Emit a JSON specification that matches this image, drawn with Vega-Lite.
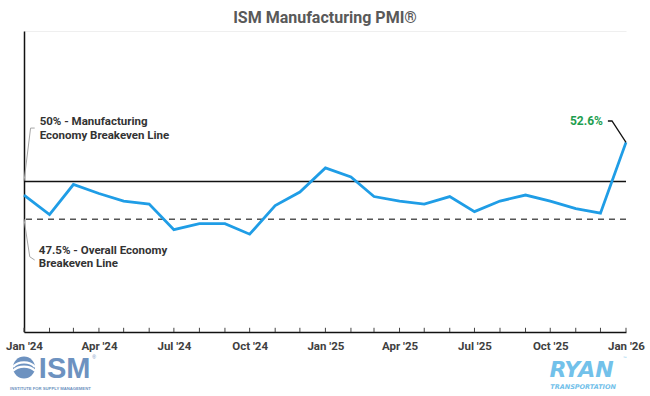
{
  "$schema": "https://vega.github.io/schema/vega-lite/v6.json",
  "autosize": {"type": "none"},
  "padding": {"left": 24, "top": 31, "right": 24, "bottom": 64},
  "width": 602,
  "height": 301,
  "background": "white",
  "title": {"text": "ISM Manufacturing PMI®", "anchor": "middle", "frame": "group", "font": "Roboto", "fontSize": 16, "fontWeight": "bold", "color": "#595959", "offset": 5},
  "config": {"view": {"stroke": null}},
  "datasets": {
    "pmi": [
      {"month": "2024-01-01", "pmi": 49.1},
      {"month": "2024-02-01", "pmi": 47.8},
      {"month": "2024-03-01", "pmi": 49.8},
      {"month": "2024-04-01", "pmi": 49.2},
      {"month": "2024-05-01", "pmi": 48.7},
      {"month": "2024-06-01", "pmi": 48.5},
      {"month": "2024-07-01", "pmi": 46.8},
      {"month": "2024-08-01", "pmi": 47.2},
      {"month": "2024-09-01", "pmi": 47.2},
      {"month": "2024-10-01", "pmi": 46.5},
      {"month": "2024-11-01", "pmi": 48.4},
      {"month": "2024-12-01", "pmi": 49.3},
      {"month": "2025-01-01", "pmi": 50.9},
      {"month": "2025-02-01", "pmi": 50.3},
      {"month": "2025-03-01", "pmi": 49.0},
      {"month": "2025-04-01", "pmi": 48.7},
      {"month": "2025-05-01", "pmi": 48.5},
      {"month": "2025-06-01", "pmi": 49.0},
      {"month": "2025-07-01", "pmi": 48.0},
      {"month": "2025-08-01", "pmi": 48.7},
      {"month": "2025-09-01", "pmi": 49.1},
      {"month": "2025-10-01", "pmi": 48.7},
      {"month": "2025-11-01", "pmi": 48.2},
      {"month": "2025-12-01", "pmi": 47.9},
      {"month": "2026-01-01", "pmi": 52.6}
    ],
    "refs": [
      {"pmi": 50.0, "kind": "mfg"},
      {"pmi": 47.5, "kind": "overall"}
    ],
    "leaders": [
      {"g": "a", "o": 1, "month": "2024-01-01", "pmi": 50.0},
      {"g": "a", "o": 2, "month": "2024-01-09", "pmi": 53.55},
      {"g": "a", "o": 3, "month": "2024-01-14", "pmi": 53.55},
      {"g": "b", "o": 1, "month": "2024-01-01", "pmi": 47.5},
      {"g": "b", "o": 2, "month": "2024-01-08", "pmi": 45.0},
      {"g": "b", "o": 3, "month": "2024-01-14", "pmi": 44.78}
    ],
    "calloutLeader": [
      {"o": 1, "month": "2025-12-10", "pmi": 54.02},
      {"o": 2, "month": "2025-12-15", "pmi": 54.02},
      {"o": 3, "month": "2026-01-01", "pmi": 52.6}
    ],
    "notes": [
      {"month": "2024-01-20", "pmi": 53.95, "text": "50% - Manufacturing"},
      {"month": "2024-01-20", "pmi": 53.02, "text": "Economy Breakeven Line"},
      {"month": "2024-01-19", "pmi": 45.38, "text": "47.5% - Overall Economy"},
      {"month": "2024-01-19", "pmi": 44.49, "text": "Breakeven Line"}
    ],
    "callout": [{"month": "2025-12-04", "pmi": 54.02, "text": "52.6%"}],
    "ismBig": [{"month": "2024-01-19", "pmi": 36.94, "text": "ISM"}],
    "ismSmall": [{"month": "2023-12-15", "pmi": 36.21, "text": "INSTITUTE FOR SUPPLY MANAGEMENT"}],
    "ismReg": [{"month": "2024-03-24", "pmi": 38.34, "text": "®"}],
    "ismIcon": [{"month": "2024-01-01", "pmi": 37.64}],
    "ryanBig": [{"month": "2025-09-30", "pmi": 37.0, "text": "RYAN"}],
    "ryanSmall": [{"month": "2025-10-01", "pmi": 36.36, "text": "TRANSPORTATION"}],
    "ryanTm": [{"month": "2025-12-28", "pmi": 38.2, "text": "™"}]
  },
  "layer": [
    {
      "data": {"name": "leaders"},
      "mark": {"type": "line", "color": "#a6a6a6", "strokeWidth": 1},
      "encoding": {
        "x": {"field": "month", "type": "temporal", "title": null,
          "scale": {"type": "utc", "domain": [{"year": 2024, "month": 1, "date": 1, "utc": true}, {"year": 2026, "month": 1, "date": 1, "utc": true}], "nice": false},
          "axis": {"tickCount": {"interval": "month", "step": 1},
            "labelExpr": "utcmonth(datum.value) % 3 == 0 ? utcFormat(datum.value, \"%b '%y\") : ''",
            "labelOverlap": false, "labelFlush": false, "grid": false, "ticks": false,
            "domainColor": "#111111", "domainWidth": 1.5,
            "labelFont": "Roboto", "labelFontWeight": "bold", "labelFontSize": 11.5, "labelColor": "#404040", "labelPadding": 8}},
        "y": {"field": "pmi", "type": "quantitative", "title": null,
          "scale": {"domain": [40, 60], "nice": false, "zero": false},
          "axis": {"values": [60], "labels": false, "ticks": false, "grid": true, "gridColor": "#efefef", "domainColor": "#111111", "domainWidth": 1.5}},
        "detail": {"field": "g"},
        "order": {"field": "o"}
      }
    },
    {
      "data": {"name": "pmi"},
      "mark": {"type": "rule", "color": "#444444", "strokeWidth": 1},
      "encoding": {
        "x": {"field": "month", "type": "temporal", "title": null},
        "y": {"datum": 40, "type": "quantitative"},
        "y2": {"datum": 40.28}
      }
    },
    {
      "data": {"name": "refs"},
      "transform": [{"filter": "datum.kind == 'mfg'"}],
      "mark": {"type": "rule", "color": "#111111", "strokeWidth": 1.6},
      "encoding": {"y": {"field": "pmi", "type": "quantitative", "title": null}}
    },
    {
      "data": {"name": "refs"},
      "transform": [{"filter": "datum.kind == 'overall'"}],
      "mark": {"type": "rule", "color": "#555555", "strokeWidth": 1.5, "strokeDash": [6, 5]},
      "encoding": {"y": {"field": "pmi", "type": "quantitative", "title": null}}
    },
    {
      "data": {"name": "pmi"},
      "mark": {"type": "line", "color": "#1f9de6", "strokeWidth": 2.8},
      "encoding": {
        "x": {"field": "month", "type": "temporal", "title": null},
        "y": {"field": "pmi", "type": "quantitative", "title": null}
      }
    },
    {
      "data": {"name": "calloutLeader"},
      "mark": {"type": "line", "color": "#111111", "strokeWidth": 1.3},
      "encoding": {
        "x": {"field": "month", "type": "temporal", "title": null},
        "y": {"field": "pmi", "type": "quantitative", "title": null},
        "order": {"field": "o"}
      }
    },
    {
      "data": {"name": "notes"},
      "mark": {"type": "text", "align": "left", "baseline": "middle", "font": "Roboto", "fontSize": 11.5, "fontWeight": "bold", "color": "#333333"},
      "encoding": {
        "x": {"field": "month", "type": "temporal", "title": null},
        "y": {"field": "pmi", "type": "quantitative", "title": null},
        "text": {"field": "text"}
      }
    },
    {
      "data": {"name": "callout"},
      "mark": {"type": "text", "align": "right", "baseline": "middle", "font": "Roboto", "fontSize": 12, "fontWeight": "bold", "color": "#1e9e4f"},
      "encoding": {
        "x": {"field": "month", "type": "temporal", "title": null},
        "y": {"field": "pmi", "type": "quantitative", "title": null},
        "text": {"field": "text"}
      }
    },
    {
      "data": {"name": "ismIcon"},
      "mark": {"type": "point", "shape": "circle", "filled": true, "color": "#6d92c0", "size": 480, "opacity": 1},
      "encoding": {
        "x": {"field": "month", "type": "temporal", "title": null},
        "y": {"field": "pmi", "type": "quantitative", "title": null}
      }
    },
    {
      "data": {"name": "ismIcon"},
      "mark": {"type": "point", "shape": "M-1,-0.05 C-0.5,-0.6 0.5,-0.6 1,-0.05 M-1,0.3 C-0.5,-0.2 0.5,-0.2 1,0.3", "filled": false, "stroke": "white", "strokeWidth": 2.2, "size": 480, "opacity": 1},
      "encoding": {
        "x": {"field": "month", "type": "temporal", "title": null},
        "y": {"field": "pmi", "type": "quantitative", "title": null}
      }
    },
    {
      "data": {"name": "ismBig"},
      "mark": {"type": "text", "align": "left", "baseline": "alphabetic", "font": "Liberation Sans", "fontSize": 29, "fontWeight": "bold", "color": "#6d92c0"},
      "encoding": {
        "x": {"field": "month", "type": "temporal", "title": null},
        "y": {"field": "pmi", "type": "quantitative", "title": null},
        "text": {"field": "text"}
      }
    },
    {
      "data": {"name": "ismSmall"},
      "mark": {"type": "text", "align": "left", "baseline": "middle", "font": "Liberation Sans", "fontSize": 4.2, "fontWeight": "bold", "color": "#6d92c0"},
      "encoding": {
        "x": {"field": "month", "type": "temporal", "title": null},
        "y": {"field": "pmi", "type": "quantitative", "title": null},
        "text": {"field": "text"}
      }
    },
    {
      "data": {"name": "ismReg"},
      "mark": {"type": "text", "align": "left", "baseline": "middle", "font": "Liberation Sans", "fontSize": 5, "color": "#6d92c0"},
      "encoding": {
        "x": {"field": "month", "type": "temporal", "title": null},
        "y": {"field": "pmi", "type": "quantitative", "title": null},
        "text": {"field": "text"}
      }
    },
    {
      "data": {"name": "ryanBig"},
      "mark": {"type": "text", "align": "left", "baseline": "alphabetic", "font": "DejaVu Sans", "fontSize": 22, "fontWeight": "bold", "fontStyle": "italic", "color": "#72c1ea"},
      "encoding": {
        "x": {"field": "month", "type": "temporal", "title": null},
        "y": {"field": "pmi", "type": "quantitative", "title": null},
        "text": {"field": "text"}
      }
    },
    {
      "data": {"name": "ryanSmall"},
      "mark": {"type": "text", "align": "left", "baseline": "middle", "font": "DejaVu Sans", "fontSize": 6.5, "fontWeight": "bold", "fontStyle": "italic", "color": "#72c1ea"},
      "encoding": {
        "x": {"field": "month", "type": "temporal", "title": null},
        "y": {"field": "pmi", "type": "quantitative", "title": null},
        "text": {"field": "text"}
      }
    },
    {
      "data": {"name": "ryanTm"},
      "mark": {"type": "text", "align": "left", "baseline": "middle", "font": "DejaVu Sans", "fontSize": 4.5, "color": "#72c1ea"},
      "encoding": {
        "x": {"field": "month", "type": "temporal", "title": null},
        "y": {"field": "pmi", "type": "quantitative", "title": null},
        "text": {"field": "text"}
      }
    }
  ]
}
